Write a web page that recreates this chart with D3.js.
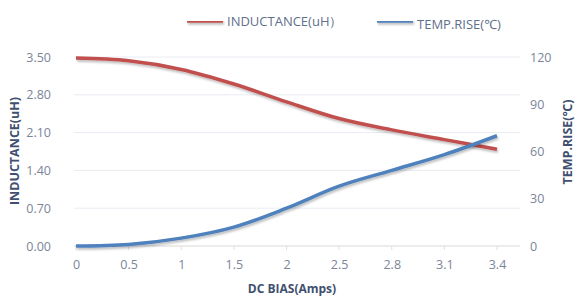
<!DOCTYPE html>
<html>
<head>
<meta charset="utf-8">
<script src="https://cdn.jsdelivr.net/npm/d3@7"></script>
<style>
  body { margin: 0; background: #fff; }
  text { font-family: "Open Sans", "Noto Sans", sans-serif; }
</style>
</head>
<body>
<div id="chart"></div>
<script>
// chart data
const categories = ["0", "0.5", "1", "1.5", "2", "2.5", "2.8", "3.1", "3.4"];
const inductance = [3.48, 3.43, 3.27, 3.00, 2.67, 2.36, 2.15, 1.97, 1.79];
const tempRise = [0, 1, 5, 12, 24, 38, 48, 58, 70];
const leftTicks = [0, 0.7, 1.4, 2.1, 2.8, 3.5];
const rightTicks = [0, 30, 60, 90, 120];

const width = 577, height = 298;
const red = "#c0504d", blue = "#4f81bd";

const svg = d3.select("#chart").append("svg")
    .attr("width", width)
    .attr("height", height);

// scales
const x = d3.scalePoint()
    .domain(categories)
    .range([76, 497]);
const yL = d3.scaleLinear().domain([0, 3.5]).range([246, 57]);
const yR = d3.scaleLinear().domain([0, 120]).range([246, 57]);

// shadow filter for the lines
const defs = svg.append("defs");
const f = defs.append("filter").attr("id", "shadow")
    .attr("filterUnits", "userSpaceOnUse")
    .attr("x", 0).attr("y", 0).attr("width", width).attr("height", height);
f.append("feDropShadow")
    .attr("dx", 1).attr("dy", 2).attr("stdDeviation", 1.2)
    .attr("flood-color", "#000").attr("flood-opacity", 0.25);

// gridlines
svg.append("g")
  .selectAll("line")
  .data(leftTicks)
  .enter()
  .append("line")
    .attr("x1", 74)
    .attr("x2", 520)
    .attr("y1", d => yL(d))
    .attr("y2", d => yL(d))
    .attr("stroke", d => d === 0 ? "#d9d9d9" : "#e8ecf2")
    .attr("stroke-width", 1);

// x tick marks
svg.append("g")
  .selectAll("line")
  .data(categories)
  .enter()
  .append("line")
    .attr("x1", d => x(d))
    .attr("x2", d => x(d))
    .attr("y1", 246)
    .attr("y2", 250)
    .attr("stroke", "#e0e0e0");

// left axis labels
const leftAxis = d3.axisLeft(yL).tickValues(leftTicks).tickFormat(d3.format(".2f")).tickSize(0).tickPadding(0);
svg.append("g")
    .attr("transform", "translate(51,0)")
    .call(leftAxis)
    .call(g => g.select(".domain").remove())
    .selectAll("text")
      .attr("fill", "#7a8598")
      .attr("font-size", "12.5px");

// right axis labels
const rightAxis = d3.axisRight(yR).tickValues(rightTicks).tickSize(0).tickPadding(0);
svg.append("g")
    .attr("transform", "translate(530,0)")
    .call(rightAxis)
    .call(g => g.select(".domain").remove())
    .selectAll("text")
      .attr("fill", "#7a8598")
      .attr("font-size", "12.5px");

// bottom axis labels
const bottomAxis = d3.axisBottom(x).tickSize(0).tickPadding(0);
svg.append("g")
    .attr("transform", "translate(0,260)")
    .call(bottomAxis)
    .call(g => g.select(".domain").remove())
    .selectAll("text")
      .attr("fill", "#7a8598")
      .attr("font-size", "12.5px");

// axis titles
svg.append("text")
    .attr("transform", "translate(19,151) rotate(-90)")
    .attr("text-anchor", "middle")
    .attr("font-size", "12.5px")
    .attr("font-weight", "bold")
    .attr("fill", "#3f5070")
    .text("INDUCTANCE(uH)");

svg.append("text")
    .attr("transform", "translate(572,142) rotate(-90)")
    .attr("text-anchor", "middle")
    .attr("font-size", "12.5px")
    .attr("font-weight", "bold")
    .attr("fill", "#3f5070")
    .text("TEMP.RISE(℃)");

svg.append("text")
    .attr("x", 292)
    .attr("y", 293)
    .attr("text-anchor", "middle")
    .attr("font-size", "12px")
    .attr("font-weight", "bold")
    .attr("fill", "#3f5070")
    .text("DC BIAS(Amps)");

// lines
const lineL = d3.line()
    .x((d, i) => x(categories[i]))
    .y(d => yL(d))
    .curve(d3.curveCatmullRom.alpha(0.5));
const lineR = d3.line()
    .x((d, i) => x(categories[i]))
    .y(d => yR(d))
    .curve(d3.curveCatmullRom.alpha(0.5));

svg.append("path")
    .datum(inductance)
    .attr("d", lineL)
    .attr("fill", "none")
    .attr("stroke", red)
    .attr("stroke-width", 3.5)
    .attr("filter", "url(#shadow)");

svg.append("path")
    .datum(tempRise)
    .attr("d", lineR)
    .attr("fill", "none")
    .attr("stroke", blue)
    .attr("stroke-width", 3.5)
    .attr("filter", "url(#shadow)");

// legend
const legend = [
  { name: "INDUCTANCE(uH）", color: red, x: 187, y: 21, ty: 5 },
  { name: "TEMP.RISE(℃)", color: blue, x: 377, y: 21, ty: 8 }
];
const lg = svg.append("g").selectAll("g")
  .data(legend)
  .enter()
  .append("g")
    .attr("transform", d => `translate(${d.x},${d.y})`);
lg.append("line")
    .attr("x1", 0).attr("x2", 36)
    .attr("stroke", d => d.color)
    .attr("stroke-width", 3.5)
    .attr("filter", "url(#shadow)");
lg.append("text")
    .attr("x", 40)
    .attr("y", d => d.ty)
    .attr("font-size", "13px")
    .attr("fill", "#5f6f8c")
    .text(d => d.name);
</script>
</body>
</html>
